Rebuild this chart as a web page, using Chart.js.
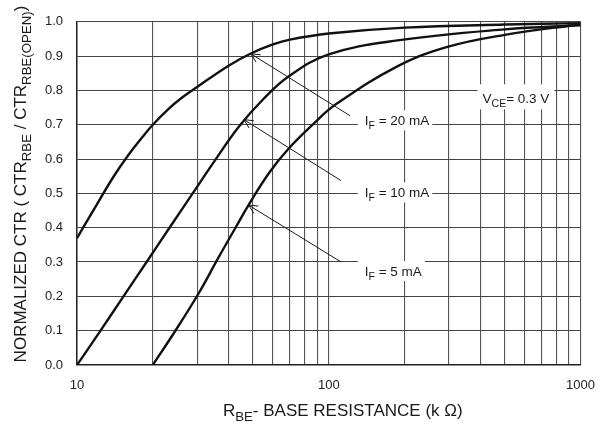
<!DOCTYPE html>
<html>
<head>
<meta charset="utf-8">
<script src="https://cdn.jsdelivr.net/npm/chart.js@4/dist/chart.umd.min.js"></script>
<style>
html,body{margin:0;padding:0;background:#fff;}
#wrap{position:relative;width:608px;height:426px;}
</style>
</head>
<body>
<div id="wrap"><canvas id="c" width="608" height="426"></canvas></div>
<script>
// ---- data ----
const xGridValues = [10,20,30,40,50,60,70,80,90,100,200,300,400,500,600,700,800,900,1000];
const xTickLabels = [10,100,1000];
const yTickValues = [0,0.1,0.2,0.3,0.4,0.5,0.6,0.7,0.8,0.9,1.0];

const rbe20 = [10,12,14,16,18,20,23,26,30,40,48.8,60,70,100,200,500,1000];
const ctr20 = [0.37,0.468,0.55,0.612,0.66,0.70,0.745,0.778,0.81,0.872,0.907,0.934,0.948,0.966,0.983,0.992,0.996];

const rbe10 = [10,12.4,15.3,18.9,23.3,28.8,35.6,44,55,69,100,188,500,1000];
const ctr10 = [0.0,0.10,0.20,0.30,0.40,0.50,0.60,0.695,0.775,0.84,0.905,0.946,0.978,0.99];

const rbe5 = [20,24.7,30.6,36.4,43,48,58,69.2,88,106,188,296,500,1000];
const ctr5 = [0.0,0.102,0.212,0.312,0.405,0.466,0.56,0.63,0.706,0.758,0.871,0.927,0.962,0.993];

const labelMain = ["I","I","I"];
const labelSub = ["F","F","F"];
const labelRest = [" = 20 mA"," = 10 mA"," = 5 mA"];
const labelX = [139,139,139];
const labelY = [0.713,0.503,0.274];
const arrowHeadX = [49,46,48];
const arrowHeadY = [0.907,0.715,0.466];
const arrowTailX = [121.6,112,112];
const arrowTailY = [0.726,0.537,0.30];

const vceParts = [["V",false],["CE",true],["= 0.3 V",false]];
const vceX = 554, vceY = 0.777;

const xTitleParts = [["R",false],["BE",true],["- BASE RESISTANCE (k \u03A9)",false]];
const yTitleParts = [["NORMALIZED CTR ( CTR",false],["RBE",true],[" / CTR",false],["RBE(OPEN)",true],[")",false]];

// ---- helpers ----
const FAM = '"Liberation Sans", Arial, Helvetica, sans-serif';
function pts(xs, ys){ return xs.map((x,i)=>({x:x,y:ys[i]})); }
function partsWidth(ctx, parts, size){
  let w=0;
  for(const [t,sub] of parts){ ctx.font = (sub?size*0.78:size)+'px '+FAM; w += ctx.measureText(t).width; }
  return w;
}
function drawParts(ctx, parts, x, y, size){ // x = left, y = baseline
  let cx = x;
  for(const [t,sub] of parts){
    ctx.font = (sub?size*0.78:size)+'px '+FAM;
    ctx.fillText(t, cx, sub ? y + size*0.28 : y);
    cx += ctx.measureText(t).width;
  }
}

const annot = {
  id:'annot',
  afterDatasetsDraw(chart){
    const ctx = chart.ctx, xs = chart.scales.x, ys = chart.scales.y;
    ctx.save();
    ctx.textBaseline = 'alphabetic';
    ctx.fillStyle = '#1a1a1a';
    // curve labels
    for(let i=0;i<labelRest.length;i++){
      const size = 13.5;
      const parts = [[labelMain[i],false],[labelSub[i],true],[labelRest[i],false]];
      const w = partsWidth(ctx, parts, size);
      const lx = xs.getPixelForValue(labelX[i]);
      const cy = ys.getPixelForValue(labelY[i]);
      ctx.fillStyle = '#fff';
      ctx.fillRect(lx-7, cy-10, w+10, 20);
      ctx.fillStyle = '#1a1a1a';
      drawParts(ctx, parts, lx, cy + size*0.36, size);
      // arrow
      const hx = xs.getPixelForValue(arrowHeadX[i]), hy = ys.getPixelForValue(arrowHeadY[i]);
      const tx = xs.getPixelForValue(arrowTailX[i]), ty = ys.getPixelForValue(arrowTailY[i]);
      ctx.strokeStyle = '#1a1a1a'; ctx.lineWidth = 1;
      ctx.beginPath(); ctx.moveTo(tx,ty); ctx.lineTo(hx,hy); ctx.stroke();
      const ang = Math.atan2(ty-hy, tx-hx), L = 10, a = 0.45;
      ctx.beginPath();
      ctx.moveTo(hx + L*Math.cos(ang+a), hy + L*Math.sin(ang+a));
      ctx.lineTo(hx,hy);
      ctx.lineTo(hx + L*Math.cos(ang-a), hy + L*Math.sin(ang-a));
      ctx.stroke();
    }
    // VCE label
    {
      const size = 13.5;
      const w = partsWidth(ctx, vceParts, size);
      const cx = xs.getPixelForValue(vceX), cy = ys.getPixelForValue(vceY);
      ctx.fillStyle = '#fff';
      ctx.fillRect(cx - w/2 - 5, cy - 14, w + 10, 25);
      ctx.fillStyle = '#1a1a1a';
      drawParts(ctx, vceParts, cx - w/2, cy + size*0.36, size);
    }
    // axis titles
    {
      const size = 17;
      const w = partsWidth(ctx, xTitleParts, size);
      const cx = (chart.chartArea.left + chart.chartArea.right)/2 + 14;
      drawParts(ctx, xTitleParts, cx - w/2, 416, size);
    }
    {
      const size = 17;
      const w = partsWidth(ctx, yTitleParts, size);
      ctx.translate(26, 184);
      ctx.rotate(-Math.PI/2);
      drawParts(ctx, yTitleParts, -w/2, 0, size);
    }
    ctx.restore();
  }
};

const lineStyle = {borderColor:'#111', borderWidth:2.4, pointRadius:0, fill:false, tension:0.4};

new Chart(document.getElementById('c'), {
  type:'line',
  data:{
    datasets:[
      Object.assign({label:'IF = 20 mA', data:pts(rbe20, ctr20)}, lineStyle),
      Object.assign({label:'IF = 10 mA', data:pts(rbe10, ctr10)}, lineStyle),
      Object.assign({label:'IF = 5 mA', data:pts(rbe5, ctr5)}, lineStyle)
    ]
  },
  options:{
    responsive:false,
    animation:false,
    layout:{padding:{left:0, top:11, right:24, bottom:0}},
    plugins:{legend:{display:false}, tooltip:{enabled:false}},
    scales:{
      x:{
        type:'logarithmic', min:10, max:1000,
        afterBuildTicks:(s)=>{ s.ticks = xGridValues.map(v=>({value:v})); },
        afterFit:(s)=>{ s.height = 61; },
        ticks:{
          autoSkip:false, maxRotation:0, padding:13,
          color:'#222', font:{family:FAM, size:13},
          callback:(v)=> xTickLabels.includes(v) ? String(v) : ''
        },
        grid:{color:'#555', lineWidth:1.1, drawTicks:false},
        border:{color:'#222', width:1.5}
      },
      y:{
        type:'linear', min:0, max:1,
        afterBuildTicks:(s)=>{ s.ticks = yTickValues.map(v=>({value:v})); },
        afterFit:(s)=>{ s.width = 77; },
        ticks:{
          padding:14, color:'#222', font:{family:FAM, size:13},
          callback:(v)=> Number(v).toFixed(1)
        },
        grid:{color:'#444', lineWidth:1.1, drawTicks:false},
        border:{color:'#222', width:1.5}
      }
    }
  },
  plugins:[annot]
});
</script>
</body>
</html>
